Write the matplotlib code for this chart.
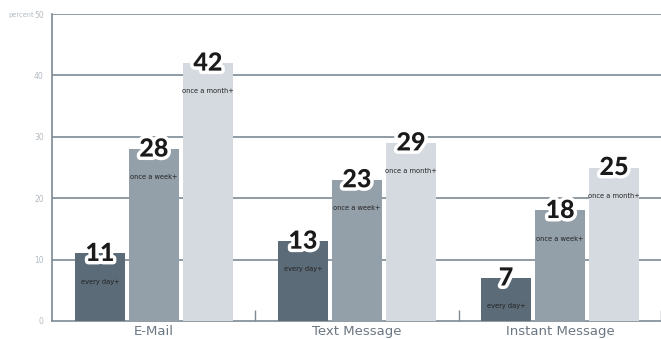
import numpy as np
import matplotlib.pyplot as plt
import matplotlib.patheffects as pe

# data
categories = ["E-Mail", "Text Message", "Instant Message"]
series_names = ["every day+", "once a week+", "once a month+"]
every_day = [11, 13, 7]
once_week = [28, 23, 18]
once_month = [42, 29, 25]
y_ticks = [0, 10, 20, 30, 40, 50]

colors = ["#5b6b78", "#939fa9", "#d4dae0"]
grid_col = "#7d8a94"

fig = plt.figure(figsize=(6.61, 3.39), dpi=100)
ax = fig.add_axes([52 / 661, 18 / 339, 609 / 661, 307 / 339])

x = np.arange(len(categories))
width = 0.246
step = 0.266
values = [every_day, once_week, once_month]

for i, vals in enumerate(values):
    xs = x + (i - 1) * step
    ax.bar(xs, vals, width=width, color=colors[i], zorder=3)
    for xi, v in zip(xs, vals):
        ax.text(xi, v, str(v), ha="center", va="center", fontsize=18,
                fontweight=900, family="Lato", color="#1a1a1a", zorder=5,
                path_effects=[pe.withStroke(linewidth=5, foreground="white")])
        ax.text(xi, v - 4.6, series_names[i], ha="center", va="center",
                fontsize=4.8, color="#222222", zorder=5)

ax.set_xlim(-0.502, 2.497)
ax.set_ylim(0, 50)

for t in y_ticks[1:]:
    ax.axhline(t, color=grid_col, lw=1.2, zorder=1)

for s in ["top", "right"]:
    ax.spines[s].set_visible(False)
ax.spines["left"].set_color(grid_col)
ax.spines["bottom"].set_color(grid_col)
ax.spines["left"].set_linewidth(1.2)
ax.spines["bottom"].set_linewidth(1.2)

ax.set_yticks(y_ticks)
ax.set_yticklabels([str(t) for t in y_ticks], fontsize=5.5, color="#b3bbc2")
ax.tick_params(axis="y", length=0, pad=6)

ax.set_xticks([0.5, 1.5, 2.495])
ax.set_xticklabels([])
ax.tick_params(axis="x", direction="in", length=8, color=grid_col, width=1)
for xi, c in zip(x, categories):
    ax.text(xi, -1.7, c, ha="center", va="center", fontsize=9.5,
            color="#6b7782", clip_on=False)

fig.text(34 / 661, 1 - 15 / 339, "percent", ha="right", va="center",
         fontsize=4.8, color="#b3bbc2")

fig.savefig("out.png", dpi=100)
